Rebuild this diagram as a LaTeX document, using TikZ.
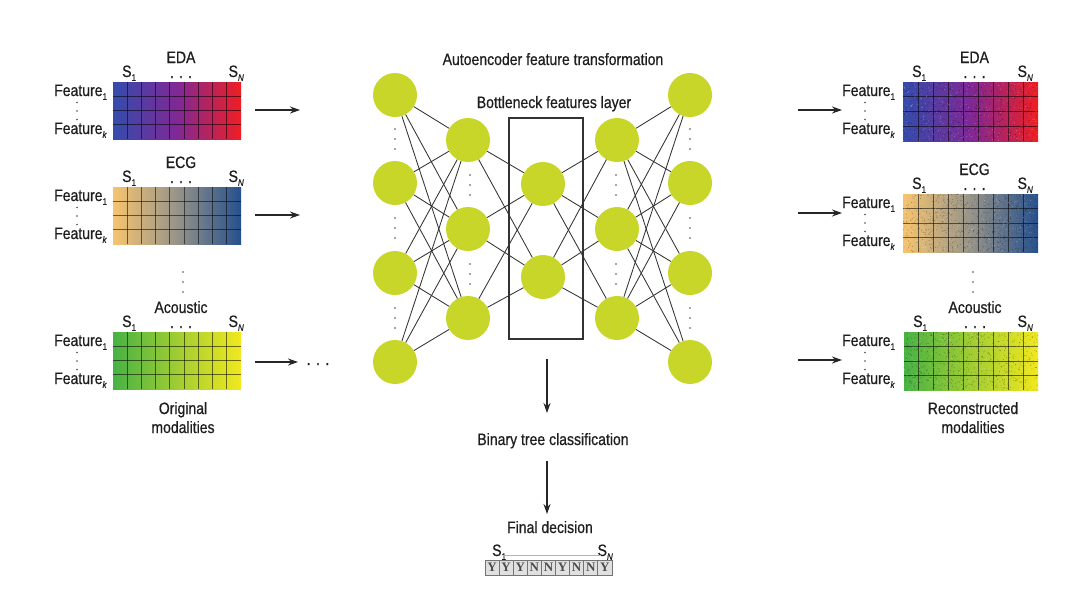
\documentclass[tikz,border=0pt]{standalone}
\usepackage{fontspec}
\setmainfont[FakeStretch=0.85,FakeBold=0.6]{Liberation Sans}
\newfontfamily\serifbox{Liberation Serif}
\usetikzlibrary{arrows.meta,calc}

\definecolor{nodegreen}{RGB}{200,214,42}
\definecolor{edaA}{RGB}{52,76,172}
\definecolor{edaB}{RGB}{128,40,150}
\definecolor{edaC}{RGB}{240,30,35}
\definecolor{ecgA}{RGB}{246,196,112}
\definecolor{ecgB}{RGB}{150,148,138}
\definecolor{ecgC}{RGB}{38,80,140}
\definecolor{acA}{RGB}{72,178,68}
\definecolor{acB}{RGB}{160,205,50}
\definecolor{acC}{RGB}{242,232,30}
\definecolor{txt}{RGB}{30,30,30}

\newcommand\mysub[1]{\raisebox{-0.45ex}{\fontsize{9.5}{10}\selectfont #1}}

% grid: x0 y0 w h colA colB colC name
\newcommand\drawgrid[8]{%
  \node[inner sep=0pt, outer sep=0pt, minimum width=#3pt, minimum height=#4pt,
        anchor=north west, left color=#5, right color=#7, middle color=#6] (#8) at (#1,#2) {};
  \foreach \ii in {1,...,8} {\draw[gridline] ($(#8.north west)!\ii/9!(#8.north east)$) -- ($(#8.south west)!\ii/9!(#8.south east)$);}
  \foreach \jj in {1,2,3} {\draw[gridline] ($(#8.north west)!\jj/4!(#8.south west)$) -- ($(#8.north east)!\jj/4!(#8.south east)$);}
}
\newcommand\speckle[4]{%
  \foreach \kk in {1,...,550} {\fill[black,opacity=0.3] ({#1+rnd*#3},{#2+rnd*#4}) circle (0.5);}
  \foreach \kk in {1,...,250} {\fill[white,opacity=0.3] ({#1+rnd*#3},{#2+rnd*#4}) circle (0.5);}
}
\newcommand\threedots[3]{%
  \foreach \dd in {-1,0,1} {\fill[vdot] ({#1},{#2+(\dd)*#3}) circle (0.95);}
}
% labels: prefix x0 y0 w title featx snx
\newcommand\gridlabels[7]{%
  \node[lbl, anchor=base] (#1title) at ({#2+#4/2+4},{#3-19}) {#5};
  \node[lbl, anchor=base west] (#1sone) at ({#2+9},{#3-5}) {S\mysub{1}};
  \node[lbl, anchor=base east] (#1sn) at ({#7},{#3-5}) {S\mysub{\textit{N}}};
  \node[lbl, anchor=base] (#1hdots) at ({#2+#4/2+4},{#3-4}) {. . .};
  \node[lbl, anchor=base west] (#1fone) at ({#6},{#3+14}) {Feature\mysub{1}};
  \node[lbl, anchor=base west] (#1fk) at ({#6},{#3+52}) {Feature\mysub{\textit{k}}};
  \threedots{#6+23}{#3+29}{8.5}
}

\begin{document}
\begin{tikzpicture}[x=1pt,y=-1pt,
  lbl/.style={font=\fontsize{16.5}{19}\selectfont, text=txt, inner sep=0pt},
  neuron/.style={circle, fill=nodegreen, minimum size=44pt, inner sep=0pt},
  conn/.style={draw=black!80, line width=0.85pt},
  flow/.style={-{Stealth[length=10pt,width=7pt]}, line width=1.2pt, draw=black!85},
  gridline/.style={draw=black, opacity=0.55, line width=0.9pt},
  vdot/.style={fill=black!70},
  cell/.style={draw=black!55, fill=black!12, line width=0.8pt, minimum width=14.1pt,
     minimum height=15pt, inner sep=0pt, font=\serifbox\bfseries\fontsize{13}{13}\selectfont, text=black!70}
]
\useasboundingbox[fill=white] (0,0) rectangle (1080,598);

% ---------- left grids ----------
\drawgrid{113}{82}{128}{57}{edaA}{edaB}{edaC}{edaL}
\drawgrid{113}{187}{128}{57}{ecgA}{ecgB}{ecgC}{ecgL}
\drawgrid{113}{332}{128}{57}{acA}{acB}{acC}{acL}
\gridlabels{edaL}{113}{82}{128}{EDA}{54}{244}
\gridlabels{ecgL}{113}{187}{128}{ECG}{54}{244}
\gridlabels{acL}{113}{332}{128}{Acoustic}{54}{244}
\threedots{183}{282}{10}
\node[lbl, align=center, anchor=base] (origL) at (183,433) {Original\\[0pt]modalities};

% ---------- right grids ----------
\pgfmathsetseed{7}
\drawgrid{903}{82}{135}{59}{edaA}{edaB}{edaC}{edaR}
\speckle{903}{82}{135}{59}
\drawgrid{903}{194}{135}{58}{ecgA}{ecgB}{ecgC}{ecgR}
\speckle{903}{194}{135}{58}
\drawgrid{904}{332}{134}{58}{acA}{acB}{acC}{acR}
\speckle{904}{332}{134}{58}
\gridlabels{edaR}{903}{82}{135}{EDA}{842}{1033}
\gridlabels{ecgR}{903}{194}{135}{ECG}{842}{1033}
\gridlabels{acR}{904}{332}{134}{Acoustic}{842}{1033}
\threedots{973}{282}{10}
\node[lbl, align=center, anchor=base] (recR) at (973,433) {Reconstructed\\[0pt]modalities};

% ---------- arrows in/out ----------
\coordinate (ia1) at (255,110); \coordinate (ib1) at (300,110);
\coordinate (ia2) at (255,215); \coordinate (ib2) at (300,215);
\coordinate (ia3) at (255,362); \coordinate (ib3) at (298,362);
\draw[flow] (ia1) -- (ib1);
\draw[flow] (ia2) -- (ib2);
\draw[flow] (ia3) -- (ib3);
\node[lbl, anchor=base] (moredots) at (318,365) {.\,\,.\,\,.};
\coordinate (oa1) at (798,110); \coordinate (ob1) at (842,110);
\coordinate (oa2) at (798,213); \coordinate (ob2) at (842,213);
\coordinate (oa3) at (798,360); \coordinate (ob3) at (842,360);
\draw[flow] (oa1) -- (ob1);
\draw[flow] (oa2) -- (ob2);
\draw[flow] (oa3) -- (ob3);

% ---------- network ----------
\node[lbl, anchor=base] (aetitle) at (553,65) {Autoencoder feature transformation};
\node[lbl, anchor=base] (bntitle) at (554,108) {Bottleneck features layer};

\node[neuron] (n11) at (395,95) {};
\node[neuron] (n12) at (395,183) {};
\node[neuron] (n13) at (395,273) {};
\node[neuron] (n14) at (395,362) {};
\node[neuron] (n21) at (468,140) {};
\node[neuron] (n22) at (468,229) {};
\node[neuron] (n23) at (468,318) {};
\node[neuron] (n31) at (543,184) {};
\node[neuron] (n32) at (543,277) {};
\node[neuron] (n41) at (617,140) {};
\node[neuron] (n42) at (617,229) {};
\node[neuron] (n43) at (617,318) {};
\node[neuron] (n51) at (690,95) {};
\node[neuron] (n52) at (690,183) {};
\node[neuron] (n53) at (690,273) {};
\node[neuron] (n54) at (690,362) {};

\foreach \a in {1,...,4} \foreach \b in {1,2,3} {\draw[conn] (n1\a) -- (n2\b);}
\foreach \a in {1,2,3} \foreach \b in {1,2} {\draw[conn] (n2\a) -- (n3\b);}
\foreach \a in {1,2} \foreach \b in {1,2,3} {\draw[conn] (n3\a) -- (n4\b);}
\foreach \a in {1,2,3} \foreach \b in {1,...,4} {\draw[conn] (n4\a) -- (n5\b);}

\threedots{395}{139}{10}
\threedots{395}{228}{10}
\threedots{395}{318}{10}
\threedots{690}{139}{10}
\threedots{690}{228}{10}
\threedots{690}{318}{10}
\threedots{470}{185}{10}
\threedots{470}{274}{10}
\threedots{616}{185}{10}
\threedots{616}{274}{10}

\node[draw=black!80, line width=2pt, minimum width=74pt, minimum height=221pt, inner sep=0pt] (bneck) at (546,228.5) {};

% ---------- classification ----------
\coordinate (d1s) at (547,359); \coordinate (d1e) at (547,413);
\draw[flow] (d1s) -- (d1e);
\node[lbl, anchor=base] (binary) at (553,445) {Binary tree classification};
\coordinate (d2s) at (547,461); \coordinate (d2e) at (547,514);
\draw[flow] (d2s) -- (d2e);
\node[lbl, anchor=base] (final) at (550,533) {Final decision};
\node[lbl, anchor=base west] (fsone) at (492,556) {S\mysub{1}};
\node[lbl, anchor=base east] (fsn) at (613,556) {S\mysub{\textit{N}}};
\coordinate (fl1) at (503,555); \coordinate (fl2) at (601,555);
\draw[black!30, line width=0.5pt] (fl1) -- (fl2);
\foreach \L [count=\i] in {Y,Y,Y,N,N,Y,N,N,Y} {
  \node[cell] (c\i) at ({485+14.1*(\i-0.5)},567.5) {\L};
}
\end{tikzpicture}
\end{document}
